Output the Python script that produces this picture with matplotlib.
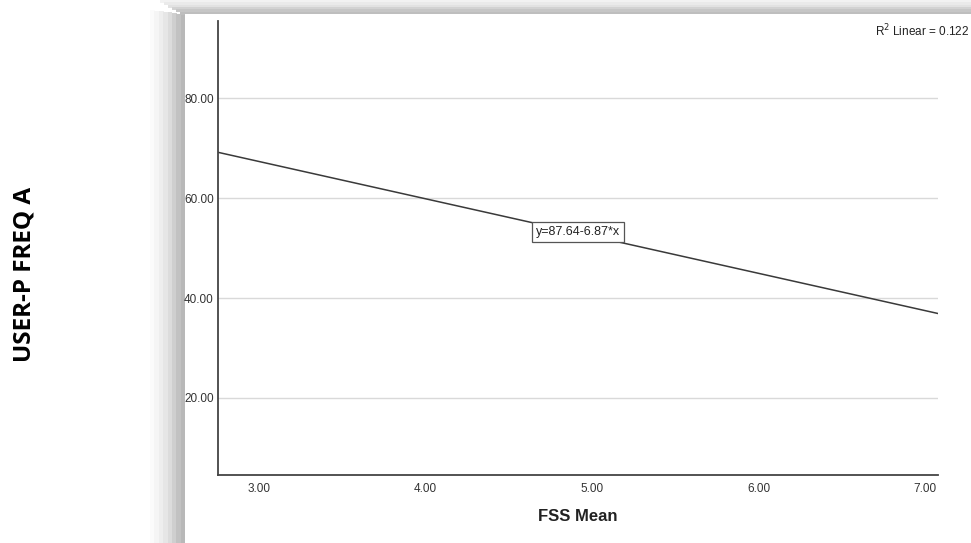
import matplotlib.pyplot as plt
from matplotlib.patches import Rectangle

# ----------------------------------------------------------
# Data
# ----------------------------------------------------------

x_ticks = [3.0, 4.0, 5.0, 6.0, 7.0]
y_ticks = [20.0, 40.0, 60.0, 80.0]

fit_x = [2.754, 7.08]
fit_y = [69.2, 36.9]

equation_label = "y=87.64-6.87*x"
equation_pos = (4.916, 53.2)

r2_label = "R$^2$ Linear = 0.122"

x_label = "FSS Mean"
y_label = "USER-P FREQ A"

W, H = 971, 543

fig = plt.figure(figsize=(W / 100, H / 100), dpi=100)
fig.patch.set_facecolor("white")


def px_rect(x0, y0, w, h, color):
    # rectangle in pixel coords measured from the top-left corner
    fig.add_artist(
        Rectangle(
            (x0 / W, 1 - (y0 + h) / H),
            w / W,
            h / H,
            transform=fig.transFigure,
            facecolor=color,
            edgecolor="none",
            zorder=0
        )
    )


# ----------------------------------------------------------
# Shadow frame around the pasted chart
# ----------------------------------------------------------

left_shades = ["#fbfbfb", "#f5f5f5", "#eeeeee", "#e6e6e6", "#dcdcdc", "#cfcfcf", "#c2c2c2", "#b8b8b8"]
step = 35 / len(left_shades)
for i, c in enumerate(left_shades):
    px_rect(150 + i * step, 10 + i * 0.6, step + 0.5, H, c)

top_shades = ["#f2f2f2", "#eaeaea", "#e2e2e2", "#d2d2d2", "#c6c6c6", "#bebebe"]
step = 14 / len(top_shades)
for i, c in enumerate(top_shades):
    px_rect(160 + i * 4, i * step, W, step + 0.5, c)

px_rect(185, 14, W, H, "white")

# ----------------------------------------------------------
# Plot area
# ----------------------------------------------------------

ax = fig.add_axes([218 / W, 1 - 475 / H, (938 - 218) / W, (475 - 21) / H])
ax.set_facecolor("none")

ax.set_xlim(2.754, 7.078)
ax.set_ylim(4.57, 95.5)

for y in y_ticks:
    ax.axhline(y, color="#d9d9d9", linewidth=1.0, zorder=1)

ax.plot(fit_x, fit_y, color="#3a3a3a", linewidth=1.1, zorder=2)

ax.text(
    equation_pos[0],
    equation_pos[1],
    equation_label,
    ha="center",
    va="center",
    fontsize=9,
    family="Liberation Sans",
    color="#222222",
    zorder=3,
    bbox=dict(boxstyle="square,pad=0.3", facecolor="white", edgecolor="#555555", linewidth=0.9)
)

ax.set_xticks(x_ticks)
ax.set_xticklabels([f"{v:.2f}" for v in x_ticks])
ax.set_yticks(y_ticks)
ax.set_yticklabels([f"{v:.2f}" for v in y_ticks])

ax.tick_params(length=0, pad=6, labelsize=8.5, labelcolor="#333333")
ax.tick_params(axis="y", pad=3)
for lab in ax.get_xticklabels() + ax.get_yticklabels():
    lab.set_family("Liberation Sans")

for side in ["top", "right"]:
    ax.spines[side].set_visible(False)
for side in ["left", "bottom"]:
    ax.spines[side].set_color("#444444")
    ax.spines[side].set_linewidth(1.3)

ax.set_xlabel(x_label, fontsize=12, fontweight="bold", family="Liberation Sans", color="#222222", labelpad=10)

# ----------------------------------------------------------
# Labels outside the chart
# ----------------------------------------------------------

fig.text(969 / W, 1 - 31 / H, r2_label, ha="right", va="center", fontsize=8.5,
         family="Liberation Sans", color="#222222")

fig.text(24 / W, 1 - 274 / H, y_label, rotation=90, ha="center", va="center",
         fontsize=17.5, fontweight="bold", family="Open Sans", color="black")

fig.savefig("out.png", dpi=100)
plt.close(fig)
